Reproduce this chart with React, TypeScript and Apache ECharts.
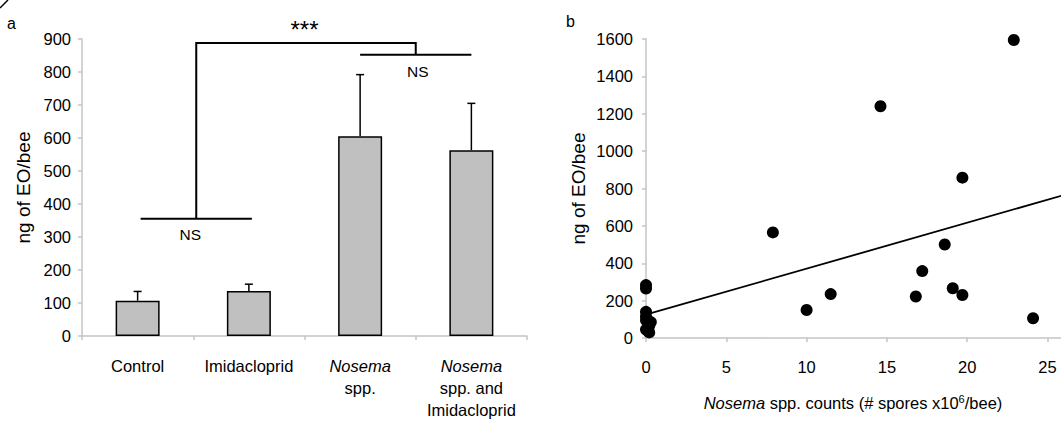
import React, { useEffect, useRef } from "react";
import * as echarts from "echarts";

// ---- Panel a data ----
const categories = [
  "Control",
  "Imidacloprid",
  "{i|Nosema}\nspp.",
  "{i|Nosema}\nspp. and\nImidacloprid",
];
const barMeans = [107, 136, 605, 563];
const barErrors = [28, 21, 187, 142];
const yTicksA = { min: 0, max: 900, interval: 100 };

// significance brackets: [fromCategory, toCategory, level]
const bracketLow = [0, 1, 355];
const bracketHigh = [2, 3, 852];
const bracketTopLevel = 888;
const starsLevel = 945;

// ---- Panel b data ----
const scatterX = [22.9, 14.6, 19.7, 7.9, 18.6, 17.2, 11.5, 16.8, 19.1, 19.7, 10.0, 24.1, 0, 0, 0, 0, 0, 0.3, 0.2, 0, 0.2, 0.1];
const scatterY = [1595, 1240, 858, 565, 500, 358, 235, 222, 266, 230, 150, 106, 283, 265, 140, 115, 95, 85, 65, 45, 30, 40];
const trendX = [0.2, 30];
const trendY = [130, 863];
const xTicksB = { min: 0, max: 30, interval: 5 };
const yTicksB = { min: 0, max: 1600, interval: 200 };
const xTitleB = "{i|Nosema} spp. counts (# spores x10{sup|6}/bee)";

const FONT = "Liberation Sans, Arial, sans-serif";
const AXIS_GRAY = "#c4c4c4";

export default function App() {
  const ref = useRef<HTMLDivElement>(null);
  useEffect(() => {
    document.body.style.margin = "0";
    const chart = echarts.init(ref.current!, null, { renderer: "svg" });
    const axisLine = { show: true, lineStyle: { color: AXIS_GRAY, width: 1.5 } };
    const axisTick = { show: true, length: 4, lineStyle: { color: AXIS_GRAY, width: 1.5 } };
    const labelStyle = { color: "#000", fontSize: 16.5, fontFamily: FONT };
    const plain = (v: number) => String(v);

    chart.setOption({
      animation: false,
      textStyle: { fontFamily: FONT },
      grid: [
        { left: 82, top: 39, width: 445, height: 299 },
        { left: 646, top: 39, width: 484.8, height: 299 },
      ],
      xAxis: [
        {
          type: "category",
          gridIndex: 0,
          data: categories,
          boundaryGap: true,
          axisLine,
          axisTick: { ...axisTick, alignWithLabel: false, interval: 0 },
          axisLabel: {
            ...labelStyle,
            interval: 0,
            margin: 19,
            lineHeight: 22,
            rich: { i: { fontStyle: "italic", fontSize: 16.5, lineHeight: 22, fontFamily: FONT, color: "#000" } },
          },
          splitLine: { show: false },
        },
        {
          type: "value",
          gridIndex: 1,
          ...xTicksB,
          axisLine: { ...axisLine, onZero: false },
          axisTick,
          axisLabel: { ...labelStyle, margin: 20, formatter: plain },
          splitLine: { show: false },
        },
      ],
      yAxis: [
        {
          type: "value",
          gridIndex: 0,
          ...yTicksA,
          axisLine,
          axisTick,
          axisLabel: { ...labelStyle, margin: 11, formatter: plain },
          splitLine: { show: false },
          name: "ng of EO/bee",
          nameLocation: "middle",
          nameGap: 49,
          nameRotate: 90,
          nameTextStyle: { color: "#000", fontSize: 19, fontFamily: FONT },
        },
        {
          type: "value",
          gridIndex: 1,
          ...yTicksB,
          axisLine: { ...axisLine, onZero: false },
          axisTick,
          axisLabel: { ...labelStyle, margin: 13, formatter: plain },
          splitLine: { show: false },
          name: "ng of EO/bee",
          nameLocation: "middle",
          nameGap: 58,
          nameRotate: 90,
          nameTextStyle: { color: "#000", fontSize: 19, fontFamily: FONT },
        },
      ],
      series: [
        {
          type: "bar",
          xAxisIndex: 0,
          yAxisIndex: 0,
          data: barMeans,
          barWidth: 44,
          itemStyle: { color: "#c0c0c0", borderColor: "#000", borderWidth: 1.5 },
        },
        {
          type: "custom",
          xAxisIndex: 0,
          yAxisIndex: 0,
          clip: false,
          data: barMeans.map((m, i) => [i, m, barErrors[i]]),
          renderItem: (params: any, api: any) => {
            const i = api.value(0);
            const m = api.value(1);
            const e = api.value(2);
            const p0 = api.coord([i, m]);
            const p1 = api.coord([i, m + e]);
            const style = { stroke: "#000", lineWidth: 1.5 };
            return {
              type: "group",
              children: [
                { type: "line", shape: { x1: p0[0], y1: p0[1], x2: p1[0], y2: p1[1] }, style },
                { type: "line", shape: { x1: p1[0] - 4, y1: p1[1], x2: p1[0] + 4, y2: p1[1] }, style },
              ],
            };
          },
        },
        {
          type: "custom",
          xAxisIndex: 0,
          yAxisIndex: 0,
          clip: false,
          data: [[0, 0]],
          renderItem: (params: any, api: any) => {
            const a0 = api.coord([bracketLow[0], bracketLow[2]]);
            const a1 = api.coord([bracketLow[1], bracketLow[2]]);
            const b0 = api.coord([bracketHigh[0], bracketHigh[2]]);
            const b1 = api.coord([bracketHigh[1], bracketHigh[2]]);
            const top = api.coord([0, bracketTopLevel])[1];
            const stars = api.coord([0, starsLevel])[1];
            const am = (a0[0] + a1[0]) / 2;
            const bm = (b0[0] + b1[0]) / 2;
            const style = { stroke: "#000", lineWidth: 2, fill: null };
            const txt = { fill: "#000", fontSize: 15.5, fontFamily: FONT, align: "center", verticalAlign: "middle" };
            return {
              type: "group",
              children: [
                { type: "line", shape: { x1: a0[0] + 3, y1: a0[1], x2: a1[0] + 3, y2: a1[1] }, style },
                { type: "line", shape: { x1: b0[0], y1: b0[1], x2: b1[0], y2: b1[1] }, style },
                {
                  type: "polyline",
                  shape: { points: [[am + 3, a0[1]], [am + 3, top], [bm, top], [bm, b0[1]]] },
                  style,
                },
                { type: "text", x: am - 3, y: a0[1] + 16, style: { ...txt, text: "NS" } },
                { type: "text", x: bm + 2, y: b0[1] + 17, style: { ...txt, text: "NS" } },
                { type: "text", x: (am + bm) / 2, y: stars + 5, style: { ...txt, text: "***", fontSize: 24 } },
              ],
            };
          },
        },
        {
          type: "scatter",
          xAxisIndex: 1,
          yAxisIndex: 1,
          data: scatterX.map((x, i) => [x, scatterY[i]]),
          symbolSize: 12,
          itemStyle: { color: "#000", opacity: 1 },
        },
        {
          type: "line",
          xAxisIndex: 1,
          yAxisIndex: 1,
          data: trendX.map((x, i) => [x, trendY[i]]),
          showSymbol: false,
          lineStyle: { color: "#000", width: 1.8 },
        },
      ],
      graphic: [
        { type: "text", left: 7, top: 15, style: { text: "a", fontSize: 16, fontFamily: FONT, fill: "#000" } },
        { type: "text", left: 566, top: 13, style: { text: "b", fontSize: 16, fontFamily: FONT, fill: "#000" } },
        { type: "line", shape: { x1: 0, y1: 8, x2: 8, y2: 0 }, style: { stroke: "#000", lineWidth: 1.5 } },
        {
          type: "text",
          x: 853,
          y: 403,
          style: {
            text: xTitleB,
            align: "center",
            verticalAlign: "middle",
            fontSize: 16.5,
            fontFamily: FONT,
            fill: "#000",
            lineHeight: 20,
            rich: {
              i: { fontStyle: "italic", fontSize: 16.5, fontFamily: FONT, fill: "#000", lineHeight: 20 },
              sup: { fontSize: 11, fontFamily: FONT, fill: "#000", verticalAlign: "top", lineHeight: 10 },
            },
          },
        },
      ],
    });
    return () => chart.dispose();
  }, []);
  return (
    <div style={{ width: 1061, height: 421, overflow: "hidden", position: "relative" }}>
      <div ref={ref} style={{ width: 1140, height: 421 }} />
    </div>
  );
}
